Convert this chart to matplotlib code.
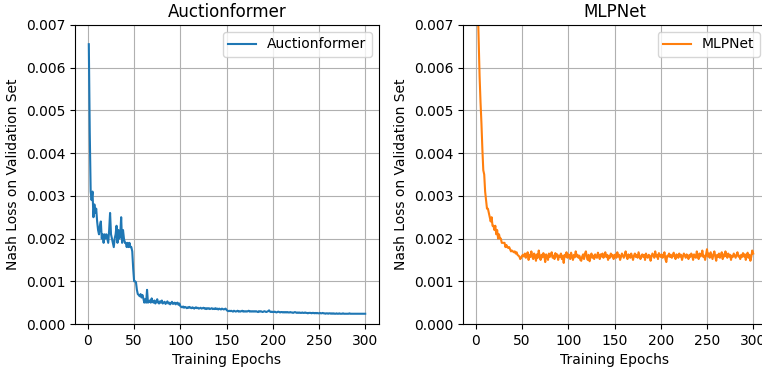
import matplotlib
matplotlib.use("Agg")
import matplotlib.pyplot as plt
import numpy as np

epochs = list(range(1, 301))

# validation nash loss
auction_loss = [
    0.00655, 0.0045, 0.0031, 0.0029, 0.0031, 0.0025, 0.0028, 0.0026, 0.0027, 0.0024,
    0.0022, 0.0021, 0.0023, 0.0024, 0.0020, 0.0021, 0.0019, 0.0021, 0.0020, 0.0021,
    0.0020, 0.0019, 0.0022, 0.0026, 0.0021, 0.0020, 0.0019, 0.0018, 0.0020, 0.0021,
    0.0023, 0.0019, 0.0022, 0.0020, 0.0021, 0.0025, 0.0019, 0.0022, 0.0020, 0.0019,
    0.0019, 0.0018, 0.0019, 0.0018, 0.0019, 0.0018, 0.0018, 0.0017, 0.0013, 0.0010,
    0.0010, 0.00098, 0.0008, 0.0007, 0.00068, 0.00065, 0.00070, 0.00062, 0.00068, 0.00060,
    0.00050, 0.00058, 0.00050, 0.00080, 0.00050, 0.00052, 0.00055, 0.00050, 0.00060, 0.00052,
    0.00050, 0.00055, 0.00048, 0.00052, 0.00058, 0.00050, 0.00048, 0.00053, 0.00050, 0.00055,
    0.00048, 0.00050, 0.00052, 0.00047, 0.00050, 0.00053, 0.00048, 0.00050, 0.00046, 0.00049,
    0.00052, 0.00047, 0.00048, 0.00050, 0.00046, 0.00049, 0.00050, 0.00045, 0.00048, 0.00042,
    0.00040, 0.00039, 0.00041, 0.00038, 0.00040, 0.00039, 0.00037, 0.00039, 0.00038, 0.00040,
    0.00038, 0.00037, 0.00039, 0.00038, 0.00036, 0.00038, 0.00039, 0.00037, 0.00038, 0.00036,
    0.00037, 0.00038, 0.00036, 0.00037, 0.00038, 0.00036, 0.00037, 0.00035, 0.00037, 0.00036,
    0.00037, 0.00035, 0.00036, 0.00037, 0.00035, 0.00036, 0.00035, 0.00037, 0.00035, 0.00036,
    0.00034, 0.00036, 0.00035, 0.00034, 0.00036, 0.00035, 0.00034, 0.00035, 0.00036, 0.00033,
    0.00031, 0.00030, 0.00031, 0.00030, 0.00031, 0.00030, 0.00029, 0.00031, 0.00030, 0.00029,
    0.00030, 0.00031, 0.00029, 0.00030, 0.00029, 0.00030, 0.00031, 0.00029, 0.00030, 0.00029,
    0.00030, 0.00029, 0.00030, 0.00031, 0.00029, 0.00030, 0.00029, 0.00030, 0.00029, 0.00030,
    0.00029, 0.00030, 0.00029, 0.00028, 0.00030, 0.00029, 0.00030, 0.00029, 0.00028, 0.00029,
    0.00030, 0.00029, 0.00028, 0.00029, 0.00030, 0.00032, 0.00029, 0.00028, 0.00029, 0.00028,
    0.00028, 0.00029, 0.00028, 0.00027, 0.00028, 0.00029, 0.00028, 0.00027, 0.00028, 0.00028,
    0.00027, 0.00028, 0.00027, 0.00028, 0.00027, 0.00028, 0.00027, 0.00027, 0.00028, 0.00027,
    0.00027, 0.00026, 0.00027, 0.00028, 0.00027, 0.00026, 0.00027, 0.00026, 0.00027, 0.00026,
    0.00026, 0.00027, 0.00026, 0.00026, 0.00027, 0.00026, 0.00026, 0.00025, 0.00026, 0.00026,
    0.00026, 0.00025, 0.00026, 0.00026, 0.00025, 0.00026, 0.00025, 0.00026, 0.00025, 0.00025,
    0.00026, 0.00025, 0.00025, 0.00026, 0.00025, 0.00025, 0.00024, 0.00025, 0.00025, 0.00024,
    0.00025, 0.00025, 0.00024, 0.00025, 0.00024, 0.00025, 0.00024, 0.00024, 0.00025, 0.00024,
    0.00024, 0.00025, 0.00024, 0.00024, 0.00024, 0.00025, 0.00024, 0.00024, 0.00024, 0.00024,
    0.00024, 0.00024, 0.00025, 0.00024, 0.00024, 0.00024, 0.00024, 0.00024, 0.00024, 0.00024,
    0.00024, 0.00024, 0.00024, 0.00024, 0.00024, 0.00024, 0.00024, 0.00024, 0.00024, 0.00024,
]

mlp_loss = [
    0.0092, 0.0075, 0.0066, 0.0058, 0.0052, 0.0047, 0.0041, 0.0036, 0.0035, 0.0031,
    0.0029, 0.0027, 0.0027, 0.0026, 0.0025, 0.0024, 0.0025, 0.0023, 0.0023, 0.0022,
    0.0023, 0.0021, 0.0022, 0.0020, 0.0021, 0.0020, 0.0020, 0.0019, 0.0019, 0.0019,
    0.0019, 0.0018, 0.00185, 0.0018, 0.00178, 0.0018, 0.00175, 0.0017, 0.00172, 0.0017,
    0.00168, 0.0017, 0.00165, 0.00168, 0.00162, 0.0016, 0.00158, 0.00152, 0.00155, 0.0016,
    0.00162, 0.00158, 0.00165, 0.00155, 0.00160, 0.00168, 0.00150, 0.00162, 0.00157, 0.00170,
    0.00158, 0.00152, 0.00165, 0.00160, 0.00148, 0.00163, 0.00155, 0.00172, 0.00158, 0.00150,
    0.00162, 0.00156, 0.00166, 0.00160, 0.00145, 0.00163, 0.00158, 0.00150, 0.00165, 0.00157,
    0.00162, 0.00168, 0.00155, 0.00160, 0.00152, 0.00166, 0.00158, 0.00163, 0.00150, 0.00160,
    0.00157, 0.00165, 0.00152, 0.00160, 0.00143, 0.00162, 0.00158, 0.00168, 0.00155, 0.00163,
    0.00160, 0.00152, 0.00167, 0.00158, 0.00150, 0.00162, 0.00156, 0.00170, 0.00158, 0.00162,
    0.00155, 0.00160, 0.00150, 0.00148, 0.00158, 0.00163, 0.00152, 0.00165, 0.00170, 0.00157,
    0.00150, 0.00162, 0.00147, 0.00158, 0.00165, 0.00155, 0.00160, 0.00152, 0.00163, 0.00158,
    0.00155, 0.00167, 0.00160, 0.00152, 0.00163, 0.00158, 0.00165, 0.00155, 0.00160, 0.00168,
    0.00157, 0.00162, 0.00150, 0.00160, 0.00155, 0.00165, 0.00158, 0.00162, 0.00152, 0.00160,
    0.00163, 0.00155, 0.00168, 0.00158, 0.00162, 0.00150, 0.00157, 0.00165, 0.00160, 0.00155,
    0.00162, 0.00170, 0.00158, 0.00152, 0.00163, 0.00160, 0.00155, 0.00165, 0.00158, 0.00150,
    0.00160, 0.00165, 0.00157, 0.00162, 0.00155, 0.00168, 0.00160, 0.00152, 0.00158, 0.00163,
    0.00157, 0.00162, 0.00150, 0.00165, 0.00158, 0.00155, 0.00162, 0.00160, 0.00148, 0.00158,
    0.00165, 0.00160, 0.00155, 0.00170, 0.00158, 0.00162, 0.00152, 0.00166, 0.00160, 0.00157,
    0.00163, 0.00155, 0.00160, 0.00168, 0.00152, 0.00145, 0.00160, 0.00158, 0.00165, 0.00157,
    0.00162, 0.00155, 0.00160, 0.00167, 0.00158, 0.00152, 0.00163, 0.00160, 0.00155, 0.00165,
    0.00158, 0.00162, 0.00150, 0.00158, 0.00165, 0.00160, 0.00155, 0.00163, 0.00158, 0.00152,
    0.00162, 0.00157, 0.00165, 0.00160, 0.00150, 0.00163, 0.00158, 0.00155, 0.00170, 0.00160,
    0.00152, 0.00165, 0.00158, 0.00162, 0.00172, 0.00157, 0.00160, 0.00150, 0.00163, 0.00175,
    0.00158, 0.00165, 0.00155, 0.00168, 0.00160, 0.00152, 0.00163, 0.00170, 0.00158, 0.00148,
    0.00162, 0.00157, 0.00165, 0.00155, 0.00160, 0.00168, 0.00152, 0.00163, 0.00158, 0.00170,
    0.00160, 0.00155, 0.00165, 0.00158, 0.00162, 0.00150, 0.00160, 0.00157, 0.00165, 0.00160,
    0.00155, 0.00162, 0.00168, 0.00158, 0.00160, 0.00152, 0.00162, 0.00157, 0.00166, 0.00158,
    0.00163, 0.00150, 0.00160, 0.00167, 0.00155, 0.00162, 0.00148, 0.00158, 0.00172, 0.00165,
]

titles = ["Auctionformer", "MLPNet"]


def draw(ax, y, name, color):
    ax.plot(epochs, y, color=color, linewidth=1.5, label=name)
    ax.set_title(name, fontsize=12)
    ax.set_xlabel("Training Epochs")
    ax.set_ylabel("Nash Loss on Validation Set")
    ax.set_ylim(0, 0.007)
    ax.set_xticks([0, 50, 100, 150, 200, 250, 300])
    ax.yaxis.set_major_formatter(plt.FormatStrFormatter("%.3f"))
    ax.grid(True)
    ax.legend(loc="upper right")


fig = plt.figure(figsize=(7.62, 3.70), dpi=100)
ax1 = fig.add_axes([75 / 762, 46 / 370, 304 / 762, 299 / 370])
ax2 = fig.add_axes([463 / 762, 46 / 370, 304 / 762, 299 / 370])

draw(ax1, auction_loss, titles[0], "#1f77b4")
draw(ax2, mlp_loss, titles[1], "#ff7f0e")

fig.savefig("out.png", dpi=100)
